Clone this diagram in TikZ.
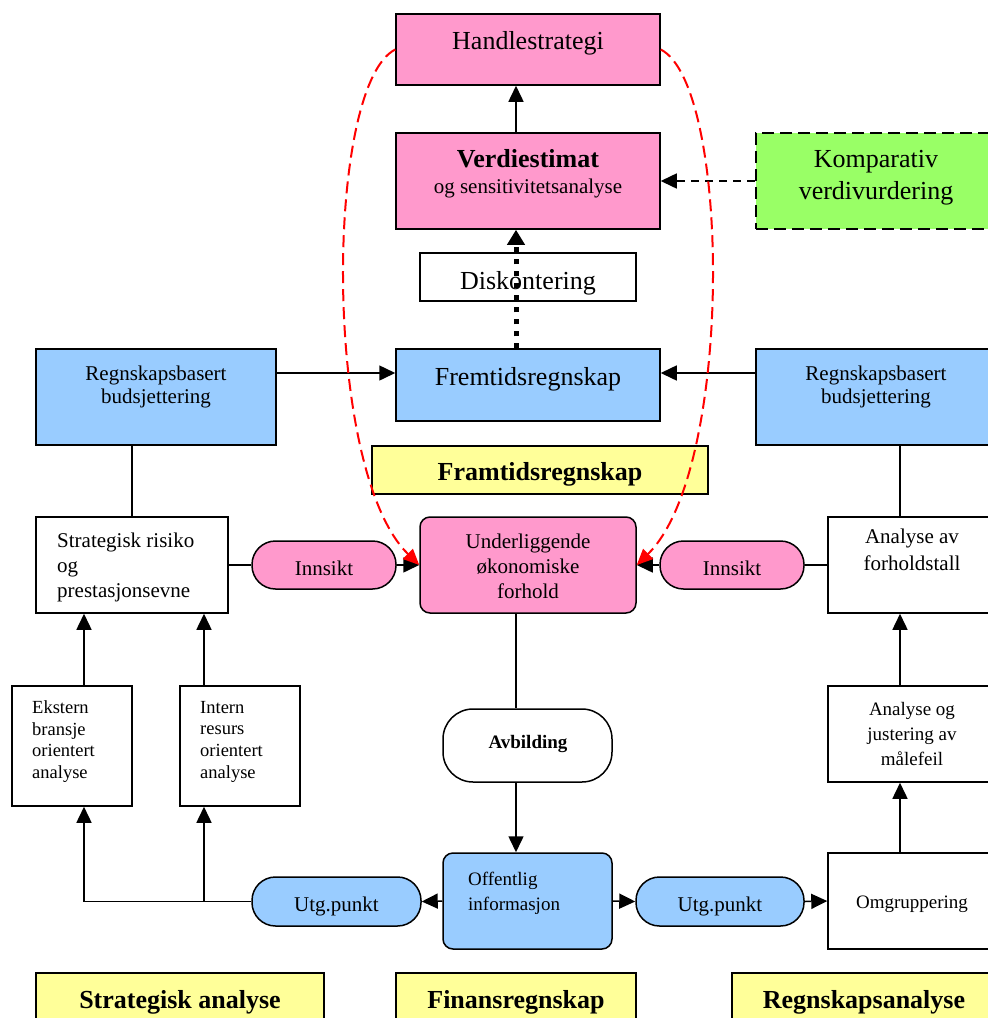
\documentclass[tikz,border=0pt]{standalone}
\usepackage{fontspec}
\setmainfont{Liberation Serif}
\usetikzlibrary{arrows.meta}

\definecolor{rosa}{HTML}{FF99CC}
\definecolor{lyseblaa}{HTML}{99CCFF}
\definecolor{gul}{HTML}{FFFF99}
\definecolor{groenn}{HTML}{99FF66}

\newcommand{\stor}{\fontsize{26}{32}\selectfont}
\newcommand{\middel}{\fontsize{21}{25}\selectfont}
\newcommand{\liten}{\fontsize{19}{25}\selectfont}
\newcommand{\minst}{\fontsize{18.5}{21.7}\selectfont}

\tikzset{
  boks/.style={draw, line width=1.5pt, inner sep=0pt},
  pille/.style={boks, rounded corners=23.5pt},
  linje/.style={line width=1.5pt},
  pil/.style={linje, -{Triangle[length=16pt,width=15pt]}},
  stiplet/.style={pil, dash pattern=on 8pt off 6pt},
  prikk/.style={line width=5pt, dash pattern=on 5pt off 7pt, -{Triangle[length=15pt,width=17pt]}},
  rod/.style={red, line width=2pt, dash pattern=on 12pt off 6pt, -{Triangle[length=16pt,width=14pt]}},
  tekst/.style={inner sep=0pt, align=center},
}

\begin{document}
\begin{tikzpicture}[x=1pt,y=-1pt]
\useasboundingbox (0,0) rectangle (988,1018);
\clip (0,0) rectangle (988,1018);

% boksene
\node[boks, fill=rosa, minimum width=264pt, minimum height=71pt] (hs) at (528,49.5) {};
\node[boks, fill=rosa, minimum width=264pt, minimum height=96pt] (ve) at (528,181) {};
\node[boks, fill=white, minimum width=216pt, minimum height=48pt] (di) at (528,277) {};
\node[boks, fill=lyseblaa, minimum width=264pt, minimum height=72pt] (fr) at (528,385) {};
\node[boks, fill=groenn, line width=2.6pt, dash pattern=on 12pt off 6pt,
      minimum width=240pt, minimum height=96pt] (ko) at (876,181) {};
\node[boks, fill=lyseblaa, minimum width=240pt, minimum height=96pt] (rbl) at (156,397) {};
\node[boks, fill=lyseblaa, minimum width=240pt, minimum height=96pt] (rbr) at (876,397) {};
\node[boks, fill=gul, minimum width=336pt, minimum height=48pt] (fy) at (540,470) {};

\node[boks, minimum width=192pt, minimum height=96pt] (sr) at (132,565) {};
\node[pille, fill=rosa, minimum width=144pt, minimum height=48pt] (inl) at (324,565) {};
\node[boks, fill=rosa, rounded corners=10pt, minimum width=216pt, minimum height=96pt] (uf) at (528,565) {};
\node[pille, fill=rosa, minimum width=144pt, minimum height=48pt] (inr) at (732,565) {};
\node[boks, minimum width=168pt, minimum height=96pt] (af) at (912,565) {};

\node[boks, minimum width=120pt, minimum height=120pt] (ek) at (72,746) {};
\node[boks, minimum width=120pt, minimum height=120pt] (ir) at (240,746) {};
\node[boks, rounded corners=30pt, minimum width=169pt, minimum height=73pt] (av) at (527.5,745.5) {};
\node[boks, minimum width=168pt, minimum height=96pt] (aj) at (912,734) {};

\node[pille, fill=lyseblaa, minimum width=169pt, minimum height=49pt] (ugl) at (336.5,901.5) {};
\node[boks, fill=lyseblaa, rounded corners=10pt, minimum width=169pt, minimum height=96pt] (oi) at (527.5,901) {};
\node[pille, fill=lyseblaa, minimum width=168pt, minimum height=49pt] (ugr) at (720,901.5) {};
\node[boks, minimum width=168pt, minimum height=96pt] (om) at (912,901) {};

\node[boks, fill=gul, minimum width=288pt, minimum height=80pt] (sa) at (180,1013) {};
\node[boks, fill=gul, minimum width=240pt, minimum height=80pt] (fa) at (516,1013) {};
\node[boks, fill=gul, minimum width=264pt, minimum height=80pt] (ra) at (864,1013) {};

% tekstene
\node[tekst, anchor=base, font=\stor] (hs-t) at (528,49) {Handlestrategi};
\node[tekst, anchor=base, font=\stor\bfseries] (ve-t) at (528,167) {Verdiestimat};
\node[tekst, anchor=base, font=\middel] (ve-u) at (528,193) {og sensitivitetsanalyse};
\node[tekst, anchor=base, font=\stor] (di-t) at (528,289) {Diskontering};
\node[tekst, anchor=base, font=\stor] (fr-t) at (528,385) {Fremtidsregnskap};
\node[tekst, anchor=north, font=\stor] (ko-t) at (876,150.2) {Komparativ\\verdivurdering};
\node[tekst, anchor=north, font={\fontsize{21}{23}\selectfont}] (rbl-t) at (156,365.7) {Regnskapsbasert\\budsjettering};
\node[tekst, anchor=north, font={\fontsize{21}{23}\selectfont}] (rbr-t) at (876,365.7) {Regnskapsbasert\\budsjettering};
\node[tekst, anchor=base, font=\stor\bfseries] (fy-t) at (540,480) {Framtidsregnskap};

\node[tekst, align=left, anchor=north west, font=\middel] (sr-t) at (57,532.7) {Strategisk risiko\\og\\prestasjonsevne};
\node[tekst, anchor=base, font=\middel] (inl-t) at (324,575) {Innsikt};
\node[tekst, anchor=north, font=\middel] (uf-t) at (528,533.7) {Underliggende\\økonomiske\\forhold};
\node[tekst, anchor=base, font=\middel] (inr-t) at (732,575) {Innsikt};
\node[tekst, anchor=north, font={\fontsize{21}{27}\selectfont}] (af-t) at (912,528.7) {Analyse av\\forholdstall};

\node[tekst, align=left, anchor=north west, font=\minst] (ek-t) at (32,700.4) {Ekstern\\bransje\\orientert\\analyse};
\node[tekst, align=left, anchor=north west, font=\minst] (ir-t) at (200,700.8) {Intern\\resurs\\orientert\\analyse};
\node[tekst, anchor=base, font=\liten\bfseries] (av-t) at (528,748) {Avbilding};
\node[tekst, anchor=north, font=\liten] (aj-t) at (912,702) {Analyse og\\justering av\\målefeil};

\node[tekst, anchor=base, font=\middel] (ugl-t) at (336.5,911) {Utg.punkt};
\node[tekst, align=left, anchor=north west, font=\liten] (oi-t) at (468,872) {Offentlig\\informasjon};
\node[tekst, anchor=base, font=\middel] (ugr-t) at (720,911) {Utg.punkt};
\node[tekst, anchor=base, font=\liten] (om-t) at (912,908) {Omgruppering};

\node[tekst, anchor=base, font=\stor\bfseries] (sa-t) at (180,1008) {Strategisk analyse};
\node[tekst, anchor=base, font=\stor\bfseries] (fa-t) at (516,1008) {Finansregnskap};
\node[tekst, anchor=base, font=\stor\bfseries] (ra-t) at (864,1008) {Regnskapsanalyse};

% hjelpepunkter for linjene
\coordinate (akse) at (516,0);
\coordinate (hoyre) at (900,0);
\coordinate (nivaa) at (0,373);
\coordinate (ekx) at (84,0);
\coordinate (irx) at (204,0);

% piler og linjer
\draw[pil] (ve.north -| akse) -- (hs.south -| akse);
\draw[stiplet] (ko.west) -- (ve.east);
\draw[pil] (rbl.east |- nivaa) -- (fr.west |- nivaa);
\draw[pil] (rbr.west |- nivaa) -- (fr.east |- nivaa);
\draw[linje] (rbl.south -| sr.north) -- (sr.north);
\draw[linje] (rbr.south -| hoyre) -- (af.north -| hoyre);
\draw[linje] (sr.east) -- (inl.west);
\draw[pil] (inl.east) -- (uf.west);
\draw[linje] (af.west) -- (inr.east);
\draw[pil] (inr.west) -- (uf.east);
\draw[linje] (uf.south -| akse) -- (av.north -| akse);
\draw[pil] (av.south -| akse) -- (oi.north -| akse);
\draw[pil] (oi.west) -- (ugl.east);
\draw[pil] (oi.east) -- (ugr.west);
\draw[pil] (ugr.east) -- (om.west);
\draw[pil] (ugl.west) -| (ek.south -| ekx);
\draw[pil] (ugl.west -| irx) -- (ir.south -| irx);
\draw[pil] (ek.north -| ekx) -- (sr.south -| ekx);
\draw[pil] (ir.north -| irx) -- (sr.south -| irx);
\draw[pil] (om.north -| hoyre) -- (aj.south -| hoyre);
\draw[pil] (aj.north -| hoyre) -- (af.south -| hoyre);

% diskontering og de røde buene
\draw[prikk] (fr.north -| akse) -- (ve.south -| akse);
\draw[rod] (hs.west) .. controls (325,85) and (322,470) .. (uf.west);
\draw[rod] (hs.east) .. controls (731,85) and (734,470) .. (uf.east);
\end{tikzpicture}
\end{document}
